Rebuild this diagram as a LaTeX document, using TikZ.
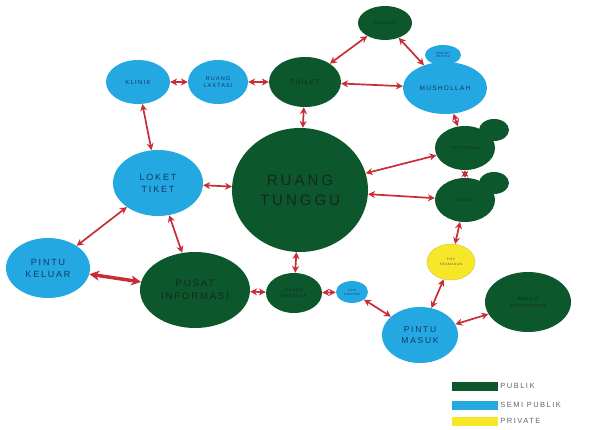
\documentclass[tikz,border=0pt]{standalone}
\usepackage{fontspec}
\newfontfamily\lbl[LetterSpace=20]{Liberation Sans}
\usetikzlibrary{shapes.geometric,arrows.meta}
\definecolor{pub}{RGB}{12,88,44}
\definecolor{semi}{RGB}{36,168,226}
\definecolor{priv}{RGB}{246,232,40}
\definecolor{arr}{RGB}{200,45,55}
\definecolor{txtg}{RGB}{22,40,30}
\definecolor{txtb}{RGB}{20,55,100}
\definecolor{legt}{RGB}{100,100,100}
\begin{document}
\begin{tikzpicture}[x=1pt,y=-1pt,
 room/.style={ellipse, inner sep=0pt, align=center, font=\lbl},
 publik/.style={room, fill=pub, text=txtg},
 semip/.style={room, fill=semi, text=txtb},
 privat/.style={room, fill=priv, text=black!65},
 link/.style={draw=arr, line width=1.7pt, {Stealth[length=7pt,width=7pt]}-{Stealth[length=7pt,width=7pt]}},
 biglink/.style={draw=arr, line width=3.5pt, {Stealth[length=10pt,width=10pt]}-{Stealth[length=10pt,width=10pt]}},
 legbox/.style={rectangle, inner sep=0pt, minimum width=46pt, minimum height=9pt},
 legtext/.style={anchor=west, inner sep=2pt, text=legt, font=\lbl\fontsize{7.5}{8}\selectfont},
]
\useasboundingbox (0,0) rectangle (589,430);

% bumps
\node[publik, minimum width=30pt, minimum height=22pt] (rbump) at (494,130) {};
\node[publik, minimum width=30pt, minimum height=22pt] (cbump) at (494,183) {};
\node[semip, minimum width=36pt, minimum height=20pt, font=\lbl\fontsize{3}{3.5}\selectfont] (wudhu) at (443,55) {TEMPAT\\WUDHU};

% nodes
\node[publik, minimum width=136pt, minimum height=124pt, font=\lbl\fontsize{15}{20}\selectfont] (tunggu) at (300,190) {RUANG\\TUNGGU};
\node[publik, minimum width=72pt, minimum height=50pt, font=\lbl\fontsize{6.5}{8}\selectfont] (toilet) at (305,82) {TOILET};
\node[publik, minimum width=54pt, minimum height=34pt, font=\lbl\fontsize{4}{5}\selectfont] (gudang) at (385,23) {GUDANG};
\node[semip, minimum width=84pt, minimum height=52pt, font=\lbl\fontsize{6.5}{8}\selectfont] (musholla) at (445,88) {MUSHOLLAH};
\node[semip, minimum width=64pt, minimum height=44pt, font=\lbl\fontsize{6}{7}\selectfont] (klinik) at (138,82) {KLINIK};
\node[semip, minimum width=60pt, minimum height=44pt, font=\lbl\fontsize{5.5}{7}\selectfont] (laktasi) at (218,82) {RUANG\\LAKTASI};
\node[semip, minimum width=90pt, minimum height=66pt, font=\lbl\fontsize{9}{12}\selectfont] (loket) at (158,183) {LOKET\\TIKET};
\node[semip, minimum width=84pt, minimum height=60pt, font=\lbl\fontsize{9}{12}\selectfont] (keluar) at (48,268) {PINTU\\KELUAR};
\node[publik, minimum width=110pt, minimum height=76pt, font=\lbl\fontsize{9.5}{13}\selectfont] (info) at (195,290) {PUSAT\\INFORMASI};
\node[publik, minimum width=56pt, minimum height=40pt, font=\lbl\fontsize{4}{5.5}\selectfont] (merokok) at (294,293) {RUANG\\MEROKOK};
\node[semip, minimum width=32pt, minimum height=22pt, font=\lbl\fontsize{3}{4}\selectfont] (atm) at (352,292) {ATM\\CENTER};
\node[semip, minimum width=76pt, minimum height=56pt, font=\lbl\fontsize{8.5}{11}\selectfont] (masuk) at (420,335) {PINTU\\MASUK};
\node[publik, minimum width=86pt, minimum height=60pt, font=\lbl\fontsize{4.5}{7}\selectfont] (parkir) at (528,302) {PARKIR\\KENDARAAN};
\node[privat, draw=priv!80!black, line width=0.3pt, minimum width=48pt, minimum height=36pt, font=\lbl\fontsize{3.2}{4.5}\selectfont] (pos) at (451,262) {POS\\KEAMANAN};
\node[publik, minimum width=60pt, minimum height=44pt, font=\lbl\fontsize{4}{5}\selectfont] (resto) at (465,148) {RESTORAN};
\node[publik, minimum width=60pt, minimum height=44pt, font=\lbl\fontsize{4}{5}\selectfont] (cafe) at (465,200) {CAFE};

% connectors
\draw[link] (klinik) -- (laktasi);
\draw[link] (laktasi) -- (toilet);
\draw[link] (toilet) -- (gudang);
\draw[link] (gudang) -- (musholla);
\draw[link] (toilet) -- (musholla);
\draw[link] (toilet) -- (tunggu);
\draw[link] (klinik) -- (loket);
\draw[link] (loket) -- (tunggu);
\draw[link] (loket) -- (keluar);
\draw[link] (loket) -- (info);
\draw[biglink] (keluar) -- (info);
\draw[link] (info) -- (merokok);
\draw[link] (tunggu) -- (merokok);
\draw[link] (merokok) -- (atm);
\draw[link] (atm) -- (masuk);
\draw[link] (masuk) -- (pos);
\draw[link] (pos) -- (cafe);
\draw[link] (cafe) -- (resto);
\draw[link] (musholla) -- (resto);
\draw[link] (tunggu) -- (resto);
\draw[link] (tunggu) -- (cafe);
\draw[link] (masuk) -- (parkir);

% legend
\node[legbox, fill=pub] (l1) at (475,386) {};
\node[legtext] (t1) at (l1.east) {PUBLIK};
\node[legbox, fill=semi] (l2) at (475,405) {};
\node[legtext] (t2) at (l2.east) {SEMI PUBLIK};
\node[legbox, fill=priv] (l3) at (475,421) {};
\node[legtext] (t3) at (l3.east) {PRIVATE};
\end{tikzpicture}
\end{document}
